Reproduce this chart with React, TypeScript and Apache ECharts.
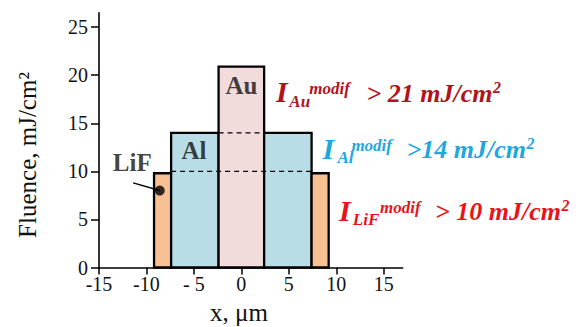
import React, { useEffect, useRef } from "react";
import * as echarts from "echarts";

// ---- data ----
const layerNames = ["LiF", "Al", "Au", "Al", "LiF"];
const layerStart = [-9.2, -7.4, -2.4, 2.4, 7.4];
const layerEnd = [-7.4, -2.4, 2.4, 7.4, 9.2];
const layerFluence = [9.8, 14, 20.9, 14, 9.8];

const xTicks = [-15, -10, -5, 0, 5, 10, 15];
const xTickLabels = ["-15", "-10", "- 5", "0", "5", "10", "15"];
const yTicks = [0, 5, 10, 15, 20, 25];

const thresholdAl = [[-2.4, 14], [2.4, 14]];
const thresholdLiF = [[-7.4, 10], [7.4, 10]];
const markerPoint = [[-8.6, 8]];
const markerLeader = [[-11.4, 8.8], [-8.6, 8]];

const layerLabelNames = ["Au", "Al", "LiF"];
const layerLabelX = [0, -5.0, -11.5];
const layerLabelY = [18.9, 12.2, 10.9];

const annotationSubs = ["Au", "Al", "LiF"];
const annotationTexts = ["> 21 mJ/cm", ">14 mJ/cm", "> 10 mJ/cm"];

const layerColors: Record<string, string> = {
  LiF: "#F8C194",
  Al: "#B8DDE6",
  Au: "#F1DBDB",
};
const annotationColors = ["#B0131B", "#1DA8DF", "#E8141C"];

const SERIF = '"Liberation Serif", "Times New Roman", serif';

export default function App() {
  const ref = useRef<HTMLDivElement>(null);

  useEffect(() => {
    document.body.style.margin = "0";
    const chart = echarts.init(ref.current!, null, { renderer: "svg" });

    const ctx = document.createElement("canvas").getContext("2d")!;
    const measure = (t: string, size: number) => {
      ctx.font = `italic bold ${size}px "Liberation Serif"`;
      return ctx.measureText(t).width;
    };

    // annotation layout (pixels)
    const annLayout = [
      { x0: 276, B: 101.7, sub: 13.3, sup: 33.3, main: 90.5 },
      { x0: 322.5, B: 158.3, sub: 15, sup: 28.9, main: 84 },
      { x0: 339, B: 220, sub: 13.8, sup: 41, main: 96 },
    ];
    const annGraphics: any[] = [];
    annLayout.forEach((a, i) => {
      const color = annotationColors[i];
      const base = { fill: color, fontFamily: SERIF, fontStyle: "italic", fontWeight: "bold", align: "left", verticalAlign: "middle" };
      annGraphics.push({ type: "text", x: a.x0, y: a.B - 9.9, style: { ...base, text: "I", fontSize: 30 } });
      annGraphics.push({ type: "text", x: a.x0 + a.sup, y: a.B - 13, style: { ...base, text: "modif", fontSize: 17 } });
      annGraphics.push({ type: "text", x: a.x0 + a.sub, y: a.B - 0.5, style: { ...base, text: annotationSubs[i], fontSize: 17 } });
      annGraphics.push({ type: "text", x: a.x0 + a.main, y: a.B - 8.6, style: { ...base, text: annotationTexts[i], fontSize: 26 } });
      const w = measure(annotationTexts[i], 26);
      annGraphics.push({ type: "text", x: a.x0 + a.main + w + 0.5, y: a.B - 14.5, style: { ...base, text: "2", fontSize: 16 } });
    });

    const option: any = {
      animation: false,
      grid: { left: 99, right: 180.3, top: 12.7, bottom: 59.5, containLabel: false },
      xAxis: {
        type: "value",
        min: -15,
        max: 17,
        interval: 5,
        splitLine: { show: false },
        axisLine: { lineStyle: { color: "#000", width: 1.6 } },
        axisTick: { show: true, inside: false, length: 7, customValues: xTicks, lineStyle: { color: "#000", width: 1.5 } },
        axisLabel: {
          customValues: xTicks,
          margin: 6,
          color: "#111",
          fontFamily: SERIF,
          fontSize: 20,
          formatter: (v: number) => {
            const i = xTicks.indexOf(v);
            return i >= 0 ? xTickLabels[i] : "";
          },
        },
      },
      yAxis: {
        type: "value",
        min: 0,
        max: 26.5,
        interval: 5,
        splitLine: { show: false },
        axisLine: { onZero: false, lineStyle: { color: "#000", width: 1.6 } },
        axisTick: { show: true, inside: false, length: 8, customValues: yTicks, lineStyle: { color: "#000", width: 1.5 } },
        axisLabel: {
          customValues: yTicks,
          margin: 11,
          color: "#111",
          fontFamily: SERIF,
          fontSize: 20,
        },
      },
      series: [
        {
          type: "custom",
          name: "layers",
          data: layerStart.map((s, i) => [s, layerEnd[i], layerFluence[i]]),
          encode: { x: [0, 1], y: 2 },
          z: 2,
          renderItem: (params: any, api: any) => {
            const p0 = api.coord([api.value(0), api.value(2)]);
            const p1 = api.coord([api.value(1), 0]);
            const name = layerNames[params.dataIndex];
            return {
              type: "rect",
              shape: { x: p0[0], y: p0[1], width: p1[0] - p0[0], height: p1[1] - p0[1] },
              style: { fill: layerColors[name], stroke: "#000", lineWidth: 2.3 },
            };
          },
        },
        {
          type: "line",
          name: "Al threshold",
          data: thresholdAl,
          symbol: "none",
          z: 5,
          lineStyle: { color: "#000", width: 1.4, type: [5, 4] },
        },
        {
          type: "line",
          name: "LiF threshold",
          data: thresholdLiF,
          symbol: "none",
          z: 5,
          lineStyle: { color: "#000", width: 1.4, type: [5, 4] },
        },
        {
          type: "line",
          name: "leader",
          data: markerLeader,
          symbol: "none",
          z: 6,
          lineStyle: { color: "#000", width: 1.5 },
        },
        {
          type: "scatter",
          name: "marker",
          data: markerPoint,
          symbol: "circle",
          symbolSize: 10,
          z: 7,
          itemStyle: { color: "#000" },
        },
        {
          type: "scatter",
          name: "layer labels",
          data: layerLabelNames.map((n, i) => [layerLabelX[i], layerLabelY[i], n]),
          symbolSize: 1,
          z: 8,
          itemStyle: { color: "transparent" },
          label: {
            show: true,
            position: "inside",
            formatter: (p: any) => p.data[2],
            color: "#111",
            fontFamily: SERIF,
            fontWeight: "bold",
            fontSize: 25,
          },
        },
      ],
      graphic: [
        {
          type: "text",
          x: 27,
          y: 155,
          rotation: Math.PI / 2,
          style: {
            text: "Fluence, mJ/cm\u00B2",
            fontFamily: SERIF,
            fontSize: 25,
            fill: "#111",
            align: "center",
            verticalAlign: "middle",
          },
        },
        {
          type: "text",
          x: 239,
          y: 312,
          style: {
            text: "x, \u03BCm",
            fontFamily: SERIF,
            fontSize: 25,
            fill: "#111",
            align: "center",
            verticalAlign: "middle",
          },
        },
        ...annGraphics,
      ],
    };

    chart.setOption(option);
    return () => chart.dispose();
  }, []);

  return <div ref={ref} style={{ position: "absolute", left: 0, top: 0, width: 583, height: 327 }} />;
}
